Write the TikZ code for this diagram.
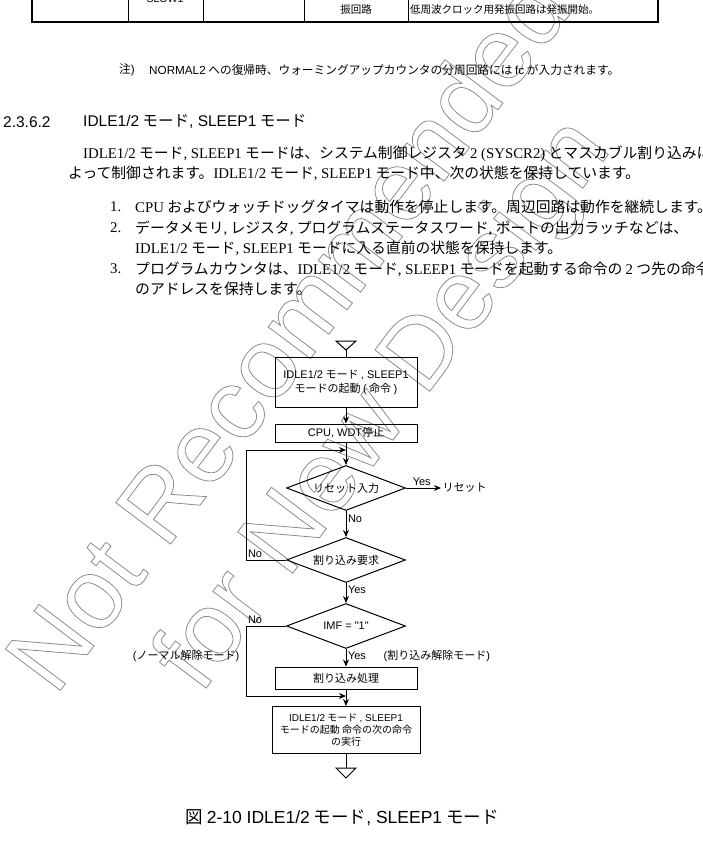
\documentclass[tikz,border=0pt]{standalone}
\usepackage{fontspec}
\setmainfont{Noto Sans CJK JP}
\newfontfamily\tmfont{Liberation Serif}
\newfontfamily\arfont{Liberation Sans}
\usetikzlibrary{arrows.meta,calc,positioning,shapes.geometric}

\newcommand\tm[1]{{\tmfont #1}}
\newcommand\ar[1]{{\arfont #1}}
\newcommand\hollow[1]{\special{pdf:literal direct 1 Tr 0.8 w}#1\special{pdf:literal direct 0 Tr}}

\begin{document}
\begin{tikzpicture}[
    x=1pt,y=-1pt,
    >={Stealth[length=7pt,width=6pt]},
    flowline/.style={line width=1pt},
    flowarrow/.style={line width=1pt,->},
    box/.style={draw,line width=1pt,minimum width=142pt,align=center,inner sep=1pt,
        font=\fontsize{11}{14}\selectfont},
    cond/.style={draw,diamond,aspect=2.64,minimum width=119pt,minimum height=45pt,
        inner sep=0pt,line width=1pt,font=\fontsize{11}{14}\selectfont},
    lbl/.style={inner sep=1.5pt,font=\fontsize{11}{14}\selectfont},
    tabtext/.style={inner sep=0pt,font=\fontsize{10.5}{13}\selectfont},
    notetext/.style={inner sep=0pt,anchor=west,font=\fontsize{11.7}{14}\selectfont},
    headtext/.style={inner sep=0pt,anchor=west,font=\fontsize{15.5}{18}\selectfont},
    bodytext/.style={inner sep=0pt,anchor=west,font=\fontsize{14.8}{18}\selectfont},
    wmark/.style={inner sep=0pt,align=center,rotate=53,text=black!45,
        font=\arfont\fontsize{100}{115}\selectfont}
]
\useasboundingbox (0,0) rectangle (702,841);

% ===== Watermark (outline) =====
\node[wmark] (wm) at (340,372)
    {\hollow{Not Recommended}\\\hollow{for New Design}};

% ===== Table (bottom rows) =====
\def\tabbot{22}
\draw[line width=1.6pt] (32,-5) -- (32,\tabbot) -- (658,\tabbot) -- (658,-5);
\foreach \cx in {128,203,304,408}
    \draw[line width=0.8pt] (\cx,-5) -- (\cx,\tabbot);

\node[tabtext] (slow) at (165,-1) {\ar{SLOW1}};
\node[tabtext] (osc) at (356,10) {振回路};
\node[tabtext,anchor=west] (lowclk) at (410,10) {低周波クロック用発振回路は発振開始。};

% Note
\node[notetext] (notemark) at (119,70) {注\ar{)}};
\node[notetext] (note) at (149,70)
    {\ar{NORMAL2} への復帰時、ウォーミングアップカウンタの分周回路には \ar{fc} が入力されます。};

% Section heading
\node[headtext] (secnum) at (3,122) {\ar{2.3.6.2}};
\node[headtext] (sectitle) at (83,122) {\ar{IDLE1/2} モード\ar{, SLEEP1} モード};

% Body text
\node[bodytext] (para1) at (83,154)
    {\tm{IDLE1/2} モード\tm{, SLEEP1} モードは、システム制御レジスタ \tm{2 (SYSCR2)} とマスカブル割り込みに};
\node[bodytext] (para2) at (68,173)
    {よって制御されます。\tm{IDLE1/2} モード\tm{, SLEEP1} モード中、次の状態を保持しています。};

\foreach \n/\y in {1/207,2/228,3/269}
    \node[bodytext] (num\n) at (110,\y) {\tm{\n.}};

\node[bodytext] (item1) at (135,207)
    {\tm{CPU} およびウォッチドッグタイマは動作を停止します。周辺回路は動作を継続します。};
\node[bodytext] (item2a) at (135,228)
    {データメモリ\tm{,} レジスタ\tm{,} プログラムステータスワード\tm{,} ポートの出力ラッチなどは、};
\node[bodytext] (item2b) at (135,248)
    {\tm{IDLE1/2} モード\tm{, SLEEP1} モードに入る直前の状態を保持します。};
\node[bodytext] (item3a) at (135,269)
    {プログラムカウンタは、\tm{IDLE1/2} モード\tm{, SLEEP1} モードを起動する命令の \tm{2} つ先の命令};
\node[bodytext] (item3b) at (135,289) {のアドレスを保持します。};

% ===== Flowchart =====
\def\cx{346}

% start mark
\coordinate (top) at (\cx,341);
\draw[flowline] (top) ++(-10,0) -- ++(20,0) -- ++(-10,9) coordinate (toptip) -- cycle;

\node[box,minimum height=50pt] (boot) at (\cx,382)
    {\ar{IDLE1/2} モード \ar{, SLEEP1}\\モードの起動 \ar{(} 命令 \ar{)}};
\node[box,minimum height=18pt] (halt) at (\cx,433) {\ar{CPU, WDT}停止};
\node[cond] (reset) at (\cx,488) {リセット入力};
\node[cond] (irq) at (\cx,560) {割り込み要求};
\node[cond] (imf) at (\cx,626) {\ar{IMF = "1"}};
\node[box,minimum height=22pt] (isr) at (\cx,678) {割り込み処理};
\node[box,minimum width=148pt,minimum height=47pt,font=\fontsize{10}{12}\selectfont]
    (next) at (\cx,730) {\ar{IDLE1/2} モード \ar{, SLEEP1}\\モードの起動 命令の次の命令\\の実行};

% end mark
\coordinate (bot) at (\cx,768);
\draw[flowline] (bot) ++(-10,0) -- ++(20,0) -- ++(-10,10) -- cycle;

\node[lbl,anchor=west] (rst) at (441,488) {リセット};

% loop corners
\coordinate (loopin) at (\cx,450);
\coordinate (loopL) at (246,450);
\coordinate (isrin) at (\cx,696);

% Connectors
\draw[flowline] (toptip) -- (boot.north);
\draw[flowarrow] (boot) -- (halt);
\draw[flowarrow] (halt) -- (reset);
\draw[flowarrow] (reset) -- node[lbl,above,pos=0.45] {\ar{Yes}} (rst);
\draw[flowarrow] (reset) -- node[lbl,right,pos=0.3] {\ar{No}} (irq);
\draw[flowarrow] (irq.west) -- (irq.west -| loopL) node[lbl,above right] {\ar{No}}
    -- (loopL) -- (loopin);
\draw[flowarrow] (irq) -- node[lbl,right,pos=0.35] {\ar{Yes}} (imf);
\draw[flowarrow] (imf.west) -- (imf.west -| loopL) node[lbl,above right] {\ar{No}}
    |- (isrin);
\draw[flowarrow] (imf) -- node[lbl,right,pos=0.4] {\ar{Yes}} (isr);
\draw[flowarrow] (isr) -- (next);
\draw[flowline] (next) -- (bot);

% release mode labels
\node[lbl,anchor=east] (normal) at (241,656) {\ar{(}ノーマル解除モード\ar{)}};
\node[lbl,anchor=west] (intr) at (382,656) {\ar{(}割り込み解除モード\ar{)}};

% Caption
\node[inner sep=0pt,font=\fontsize{17.5}{20}\selectfont] (cap) at (342,818)
    {図 \ar{2-10 IDLE1/2} モード\ar{, SLEEP1} モード};

\end{tikzpicture}
\end{document}
